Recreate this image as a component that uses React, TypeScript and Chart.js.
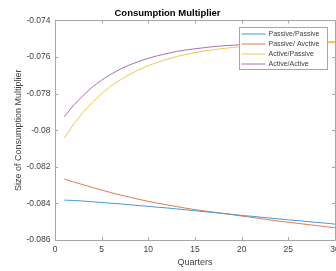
import React, { useEffect, useRef } from "react";
import { Chart, registerables } from "chart.js";

Chart.register(...registerables);

const quarters = [1,2,3,4,5,6,7,8,9,10,11,12,13,14,15,16,17,18,19,20,21,22,23,24,25,26,27,28,29,30];

const passivePassive = [
  -0.08382, -0.08384, -0.08387, -0.08391, -0.08395, -0.08399, -0.08403, -0.08407, -0.08412, -0.08416,
  -0.08421, -0.08425, -0.0843, -0.08435, -0.0844, -0.08445, -0.0845, -0.08455, -0.0846, -0.08466,
  -0.0847, -0.08475, -0.0848, -0.08485, -0.0849, -0.08494, -0.08499, -0.08504, -0.08508, -0.08513,
];
const passiveActive = [
  -0.08267, -0.08283, -0.08298, -0.08313, -0.08327, -0.08341, -0.08354, -0.08366, -0.08378, -0.08389,
  -0.08399, -0.08408, -0.08417, -0.08426, -0.08434, -0.08441, -0.08448, -0.08455, -0.08462, -0.08469,
  -0.08476, -0.08483, -0.0849, -0.08497, -0.08503, -0.08509, -0.08515, -0.08521, -0.08527, -0.08533,
];
const activePassive = [
  -0.08043, -0.07967, -0.07903, -0.07848, -0.078, -0.07759, -0.07725, -0.07695, -0.07669, -0.07647,
  -0.07629, -0.07612, -0.07598, -0.07586, -0.07576, -0.07567, -0.0756, -0.07554, -0.07548, -0.07544,
  -0.07539, -0.07536, -0.07533, -0.0753, -0.07528, -0.07526, -0.07525, -0.07523, -0.07522, -0.07521,
];
const activeActive = [
  -0.07926, -0.07863, -0.0781, -0.07764, -0.07726, -0.07694, -0.07666, -0.07643, -0.07624, -0.07607,
  -0.07593, -0.07581, -0.0757, -0.07562, -0.07555, -0.07549, -0.07543, -0.07539, -0.07536, -0.07532,
  -0.0753, -0.07527, -0.07526, -0.07524, -0.07522, -0.07522, -0.0752, -0.0752, -0.07519, -0.07518,
];

const seriesNames = ["Passive/Passive", "Passive/ Avctive", "Active/Passive", "Active/Active"];
const seriesColors = ["#4b98cf", "#e07b52", "#f0c551", "#a274ad"];

const xTicks = [0, 5, 10, 15, 20, 25, 30];
const yTicks = [-0.086, -0.084, -0.082, -0.08, -0.078, -0.076, -0.074];

const AXIS_COLOR = "#a6a6a6";
const TEXT_COLOR = "#404040";
const FONT = "Arial, 'Liberation Sans', sans-serif";

const boxPlugin = {
  id: "matlabBox",
  afterDatasetsDraw(chart: any) {
    const { ctx, chartArea } = chart;
    const { left, right, top, bottom } = chartArea;
    const xs = chart.scales.x;
    const ys = chart.scales.y;
    ctx.save();
    ctx.strokeStyle = AXIS_COLOR;
    ctx.lineWidth = 1;
    ctx.beginPath();
    ctx.rect(Math.round(left) + 0.5, Math.round(top) + 0.5, Math.round(right - left), Math.round(bottom - top));
    ctx.stroke();
    const tl = 3;
    ctx.beginPath();
    xTicks.forEach((v) => {
      const px = Math.round(xs.getPixelForValue(v)) + 0.5;
      ctx.moveTo(px, bottom);
      ctx.lineTo(px, bottom - tl);
      ctx.moveTo(px, top);
      ctx.lineTo(px, top + tl);
    });
    yTicks.forEach((v) => {
      const py = Math.round(ys.getPixelForValue(v)) + 0.5;
      ctx.moveTo(left, py);
      ctx.lineTo(left + tl, py);
      ctx.moveTo(right, py);
      ctx.lineTo(right - tl, py);
    });
    ctx.stroke();

    // legend
    const lx = 239.5, ly = 27.5, lw = 88, lh = 42;
    ctx.fillStyle = "#ffffff";
    ctx.fillRect(lx, ly, lw, lh);
    ctx.strokeStyle = AXIS_COLOR;
    ctx.strokeRect(lx, ly, lw, lh);
    ctx.font = `7px ${FONT}`;
    ctx.textBaseline = "middle";
    ctx.textAlign = "left";
    chart.data.datasets.forEach((ds: any, i: number) => {
      const yy = ly + 6.5 + i * 10;
      ctx.strokeStyle = ds.borderColor;
      ctx.beginPath();
      ctx.moveTo(lx + 2, yy);
      ctx.lineTo(lx + 26, yy);
      ctx.stroke();
      ctx.fillStyle = TEXT_COLOR;
      ctx.fillText(ds.label, lx + 29, yy);
    });
    ctx.restore();
  },
};

export default function App() {
  const ref = useRef<HTMLCanvasElement | null>(null);
  useEffect(() => {
    document.body.style.margin = "0";
    const canvas = ref.current!;
    const chart = new Chart(canvas, {
      type: "line",
      data: {
        labels: quarters,
        datasets: [passivePassive, passiveActive, activePassive, activeActive].map((vals, i) => ({
          label: seriesNames[i],
          data: vals.map((v, j) => ({ x: quarters[j], y: v })),
          borderColor: seriesColors[i],
          backgroundColor: seriesColors[i],
          borderWidth: 1,
          pointRadius: 0,
          tension: 0,
          fill: false,
        })),
      },
      options: {
        animation: false,
        responsive: false,
        maintainAspectRatio: false,
        layout: { padding: { left: 0, right: 1, top: 0, bottom: 0 } },
        plugins: {
          legend: { display: false },
          tooltip: { enabled: false },
          title: {
            display: true,
            text: "Consumption Multiplier",
            color: "#000000",
            font: { family: FONT, size: 9.5, weight: "bold" },
            padding: { top: 8, bottom: 1 },
          },
        },
        scales: {
          x: {
            type: "linear",
            min: 0,
            max: 30,
            grid: { display: false, drawTicks: false },
            border: { display: false },
            afterBuildTicks: (s: any) => { s.ticks = xTicks.map((v) => ({ value: v })); },
            ticks: {
              color: TEXT_COLOR,
              font: { family: FONT, size: 8.5 },
              padding: 5,
              maxRotation: 0,
              autoSkip: false,
              callback: (v: any) => String(v),
            },
            title: {
              display: true,
              text: "Quarters",
              color: TEXT_COLOR,
              font: { family: FONT, size: 9 },
              padding: { top: 0, bottom: 3 },
            },
            afterFit: (s: any) => { s.height = 31; s.paddingLeft = 0; s.paddingRight = 0; },
          },
          y: {
            type: "linear",
            min: -0.086,
            max: -0.074,
            grid: { display: false, drawTicks: false },
            border: { display: false },
            afterBuildTicks: (s: any) => { s.ticks = yTicks.map((v) => ({ value: v })); },
            ticks: {
              color: TEXT_COLOR,
              font: { family: FONT, size: 8.5 },
              padding: 4.5,
              autoSkip: false,
              callback: (v: any) => String(Number(Number(v).toFixed(3))),
            },
            title: {
              display: true,
              text: "Size of Consumption Multiplier",
              color: TEXT_COLOR,
              font: { family: FONT, size: 9 },
              padding: { top: 13, bottom: 0 },
            },
            afterFit: (s: any) => { s.width = 55; s.paddingTop = 0; s.paddingBottom = 0; },
          },
        },
      },
      plugins: [boxPlugin],
    } as any);
    return () => chart.destroy();
  }, []);
  return (
    <div style={{ position: "fixed", left: 0, top: 0, width: 336, height: 271, overflow: "hidden", background: "#fff" }}>
      <canvas ref={ref} width={336} height={271} style={{ display: "block", width: 336, height: 271 }} />
    </div>
  );
}
